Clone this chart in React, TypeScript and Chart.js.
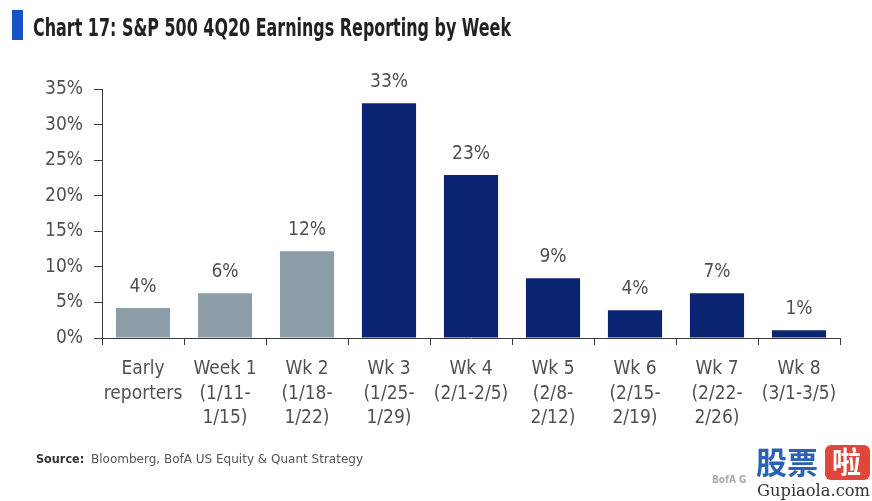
import React, { useEffect, useRef } from "react";
import { Chart, registerables } from "chart.js";

Chart.register(...registerables);

const categories: string[][] = [
  ["Early", "reporters"],
  ["Week 1", "(1/11-", "1/15)"],
  ["Wk 2", "(1/18-", "1/22)"],
  ["Wk 3", "(1/25-", "1/29)"],
  ["Wk 4", "(2/1-2/5)"],
  ["Wk 5", "(2/8-", "2/12)"],
  ["Wk 6", "(2/15-", "2/19)"],
  ["Wk 7", "(2/22-", "2/26)"],
  ["Wk 8", "(3/1-3/5)"],
];
const shareReporting: number[] = [4.2, 6.3, 12.2, 33.0, 22.9, 8.4, 3.9, 6.3, 1.1];
const valueLabels: string[] = ["4%", "6%", "12%", "33%", "23%", "9%", "4%", "7%", "1%"];
const earlyPeriodCount = 3;
const yMax = 35;
const yStep = 5;

const titleText = "Chart 17: S&P 500 4Q20 Earnings Reporting by Week";
const sourceLabel = "Source:";
const sourceText = "Bloomberg, BofA US Equity & Quant Strategy";
const footerText = "BofA G";

const FONT = '"Liberation Sans Narrow", "DejaVu Sans Condensed", "Liberation Sans", sans-serif';
const GREY = "#8d9ea9";
const NAVY = "#0b2471";
const AXIS = "#3a3a3a";
const TEXT = "#505050";

const overlay = {
  id: "overlay",
  afterDatasetsDraw(chart: any) {
    const ctx = chart.ctx;
    const meta = chart.getDatasetMeta(0);
    ctx.save();
    ctx.font = `19px ${FONT}`;
    ctx.fillStyle = TEXT;
    ctx.textAlign = "center";
    ctx.textBaseline = "alphabetic";
    meta.data.forEach((bar: any, i: number) => {
      ctx.fillText(valueLabels[i], bar.x, bar.y - 16);
    });
    ctx.restore();
  },
  afterDraw(chart: any) {
    const ctx = chart.ctx;
    ctx.save();
    // title marker
    ctx.fillStyle = "#1652c4";
    ctx.fillRect(12, 10, 11, 30);
    // title
    ctx.font = `bold 24px ${FONT}`;
    ctx.fillStyle = "#222";
    ctx.textAlign = "left";
    ctx.textBaseline = "alphabetic";
    const w = ctx.measureText(titleText).width;
    const target = 478;
    ctx.save();
    ctx.translate(33, 36);
    ctx.scale(target / w, 1);
    ctx.fillText(titleText, 0, 0);
    ctx.restore();
    // source
    ctx.font = `bold 12.5px ${FONT}`;
    ctx.fillStyle = "#333";
    ctx.fillText(sourceLabel, 36, 463);
    ctx.font = `12.5px ${FONT}`;
    ctx.fillStyle = "#555";
    const sw = ctx.measureText(sourceText).width;
    ctx.save();
    ctx.translate(91, 463);
    ctx.scale(272 / sw, 1);
    ctx.fillText(sourceText, 0, 0);
    ctx.restore();
    // footer
    ctx.font = `bold 10px ${FONT}`;
    ctx.fillStyle = "#aaa";
    ctx.fillText(footerText, 712, 483);
    // watermark
    ctx.font = `bold 31px "Noto Sans CJK SC", sans-serif`;
    ctx.fillStyle = "#2a62b8";
    ctx.fillText("股票", 756, 474);
    ctx.fillStyle = "#e0463c";
    ctx.beginPath();
    (ctx as any).roundRect(825, 445, 45, 35, 6);
    ctx.fill();
    ctx.fillStyle = "#fff";
    ctx.font = `bold 29px "Noto Sans CJK SC", sans-serif`;
    ctx.fillText("啦", 832, 473);
    ctx.font = `16px "DejaVu Serif", "Liberation Serif", serif`;
    ctx.fillStyle = "#333";
    const gw = ctx.measureText("Gupiaola.com").width;
    ctx.save();
    ctx.translate(757, 496);
    ctx.scale(113 / gw, 1);
    ctx.fillText("Gupiaola.com", 0, 0);
    ctx.restore();
    ctx.restore();
  },
};

export default function App() {
  const ref = useRef<HTMLCanvasElement>(null);
  useEffect(() => {
    if (!ref.current) return;
    const chart = new Chart(ref.current, {
      type: "bar",
      data: {
        labels: categories,
        datasets: [
          {
            data: shareReporting,
            backgroundColor: shareReporting.map((_, i) => (i < earlyPeriodCount ? GREY : NAVY)),
            borderWidth: 0,
            categoryPercentage: 1,
            barPercentage: 0.66,
          },
        ],
      },
      options: {
        animation: false,
        responsive: false,
        devicePixelRatio: 1,
        layout: { padding: { top: 89, left: 0, right: 32, bottom: 63 } },
        plugins: { legend: { display: false }, title: { display: false }, tooltip: { enabled: false } },
        scales: {
          x: {
            grid: { display: true, drawOnChartArea: false, drawTicks: true, tickLength: 7, color: AXIS, offset: true },
            border: { display: true, color: AXIS, width: 1 },
            ticks: { font: { family: FONT, size: 19, lineHeight: 1.29 }, color: TEXT, padding: 12, maxRotation: 0, autoSkip: false },
            afterFit: (s: any) => {
              s.height = 100;
            },
          },
          y: {
            min: 0,
            max: yMax,
            grid: { display: true, drawOnChartArea: false, drawTicks: true, tickLength: 8, color: AXIS },
            border: { display: true, color: AXIS, width: 1 },
            ticks: {
              stepSize: yStep,
              font: { family: FONT, size: 19 },
              color: TEXT,
              padding: 11,
              callback: (v: any) => `${v}%`,
            },
            afterFit: (s: any) => {
              s.width = 102;
            },
          },
        },
      },
      plugins: [overlay],
    });
    return () => chart.destroy();
  }, []);
  return (
    <div style={{ position: "absolute", left: 0, top: 0, width: 872, height: 501, background: "#fff" }}>
      <canvas ref={ref} width={872} height={501} style={{ display: "block" }} />
    </div>
  );
}
